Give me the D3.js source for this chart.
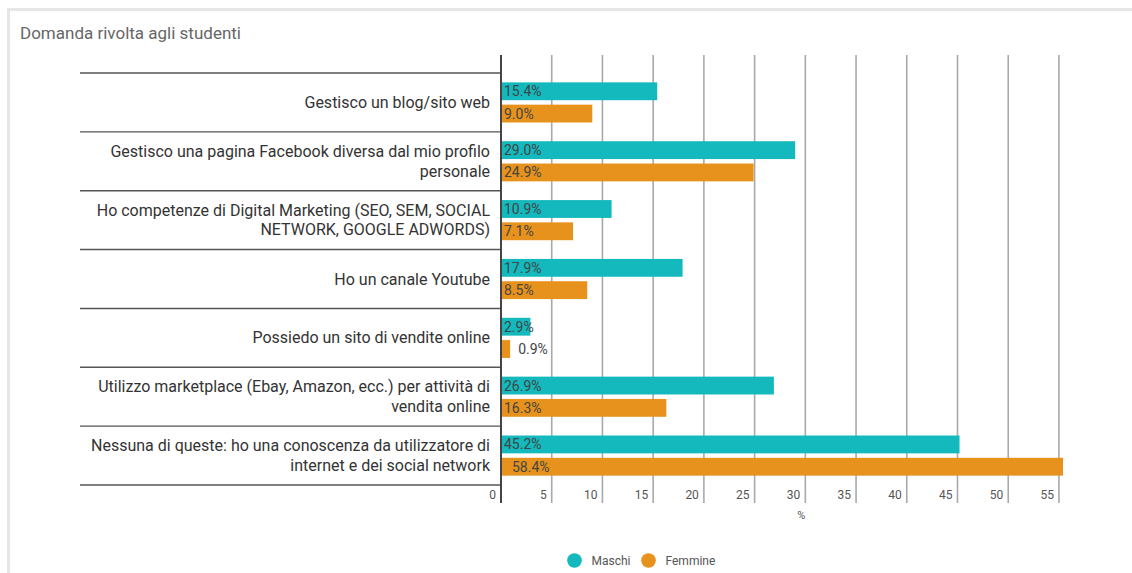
<!DOCTYPE html>
<html>
<head>
<meta charset="utf-8">
<script src="https://cdn.jsdelivr.net/npm/d3@7"></script>
<style>
  html, body { margin: 0; padding: 0; background: #fff; }
  svg { display: block; font-family: Roboto, "Noto Sans", sans-serif; }
</style>
</head>
<body>
<svg id="chart" width="1132" height="573"></svg>
<script>
// Survey answers (percent of respondents) by gender
const categories = [
  "Gestisco un blog/sito web",
  "Gestisco una pagina Facebook diversa dal mio profilo\npersonale",
  "Ho competenze di Digital Marketing (SEO, SEM, SOCIAL\nNETWORK, GOOGLE ADWORDS)",
  "Ho un canale Youtube",
  "Possiedo un sito di vendite online",
  "Utilizzo marketplace (Ebay, Amazon, ecc.) per attività di\nvendita online",
  "Nessuna di queste: ho una conoscenza da utilizzatore di\ninternet e dei social network"
];
const maschi  = [15.4, 29.0, 10.9, 17.9, 2.9, 26.9, 45.2];
const femmine = [9.0, 24.9, 7.1, 8.5, 0.9, 16.3, 58.4];
const seriesNames = ["Maschi", "Femmine"];
const xTicks = [0, 5, 10, 15, 20, 25, 30, 35, 40, 45, 50, 55];
const chartTitle = "Domanda rivolta agli studenti";
const axisTitle = "%";

const colors = ["#13b9bc", "#e6921c"];
const svg = d3.select("#chart");

// outer card frame
svg.append("rect")
  .attr("x", 8.5).attr("y", 9.5).attr("width", 1140).attr("height", 600)
  .attr("fill", "none").attr("stroke", "#e6e6e6").attr("stroke-width", 3);

svg.append("text")
  .attr("x", 20).attr("y", 39)
  .attr("font-size", 17).attr("fill", "#666")
  .text(chartTitle);

const x = d3.scaleLinear().domain([0, 55.4]).range([501, 1063]);
const y = d3.scaleBand().domain(d3.range(categories.length)).range([73, 485]);
const inner = d3.scaleBand().domain([0, 1]).range([0, y.bandwidth()])
  .paddingInner(0.2).paddingOuter(0.42);

const gridTop = 55, gridBottom = 503;

// vertical gridlines with tick labels to their left
const grid = svg.append("g");
grid.selectAll("line").data(xTicks.filter(t => t > 0)).join("line")
  .attr("x1", d => x(d)).attr("x2", d => x(d))
  .attr("y1", gridTop).attr("y2", gridBottom)
  .attr("stroke", "#a9a9a9").attr("stroke-width", 1.6);

grid.selectAll("text").data(xTicks).join("text")
  .attr("x", d => x(d) - 5).attr("y", 499)
  .attr("text-anchor", "end")
  .attr("font-size", 12).attr("fill", "#555")
  .text(d => d);

svg.append("text")
  .attr("x", x(30) - 4).attr("y", 519)
  .attr("text-anchor", "middle").attr("font-size", 11).attr("fill", "#555")
  .text(axisTitle);

// category separators
svg.append("g").selectAll("line").data(d3.range(categories.length + 1)).join("line")
  .attr("x1", 80).attr("x2", 501)
  .attr("y1", i => 73 + i * y.step()).attr("y2", i => 73 + i * y.step())
  .attr("stroke", "#555").attr("stroke-width", 1.4);

// category labels
const labels = svg.append("g").selectAll("text").data(categories).join("text")
  .attr("text-anchor", "end")
  .attr("font-size", 16).attr("fill", "#333");
labels.each(function(d, i) {
  const lines = d.split("\n");
  const cy = y(i) + y.bandwidth() / 2;
  const lh = 19.5;
  const t = d3.select(this);
  lines.forEach((ln, k) => {
    t.append("tspan")
      .attr("x", 490)
      .attr("y", cy + 5.5 + (k - (lines.length - 1) / 2) * lh)
      .text(ln);
  });
});

// bars
svg.append("defs").append("clipPath").attr("id", "plotClip")
  .append("rect").attr("x", x(0)).attr("y", 0)
  .attr("width", x(x.domain()[1]) - x(0)).attr("height", 573);

const rows = [];
categories.forEach((c, i) => {
  [maschi[i], femmine[i]].forEach((v, s) => rows.push({ i, s, v }));
});

const bars = svg.append("g").attr("clip-path", "url(#plotClip)");
bars.selectAll("rect").data(rows).join("rect")
  .attr("x", x(0))
  .attr("y", d => y(d.i) + inner(d.s))
  .attr("width", d => x(d.v) - x(0))
  .attr("height", inner.bandwidth())
  .attr("fill", d => colors[d.s]);

// value labels
svg.append("g").selectAll("text").data(rows).join("text")
  .attr("x", d => {
    const w = x(d.v) - x(0);
    if (w < 15) return x(d.v) + 8;
    if (d.v > x.domain()[1]) return x(0) + 11;
    return x(0) + 3;
  })
  .attr("y", d => y(d.i) + inner(d.s) + inner.bandwidth() / 2 + 5)
  .attr("font-size", 14).attr("fill", "#444")
  .text(d => d.v.toFixed(1) + "%");

// y axis baseline
svg.append("line")
  .attr("x1", x(0)).attr("x2", x(0))
  .attr("y1", gridTop).attr("y2", gridBottom)
  .attr("stroke", "#444").attr("stroke-width", 2);

// legend
const legend = svg.append("g");
const legendItems = [{ cx: 574.5, tx: 591.5 }, { cx: 648.5, tx: 665.5 }];
seriesNames.forEach((n, k) => {
  legend.append("circle").attr("cx", legendItems[k].cx).attr("cy", 560.5)
    .attr("r", 7.3).attr("fill", colors[k]);
  legend.append("text").attr("x", legendItems[k].tx).attr("y", 565)
    .attr("font-size", 12).attr("fill", "#555").text(n);
});
</script>
</body>
</html>
